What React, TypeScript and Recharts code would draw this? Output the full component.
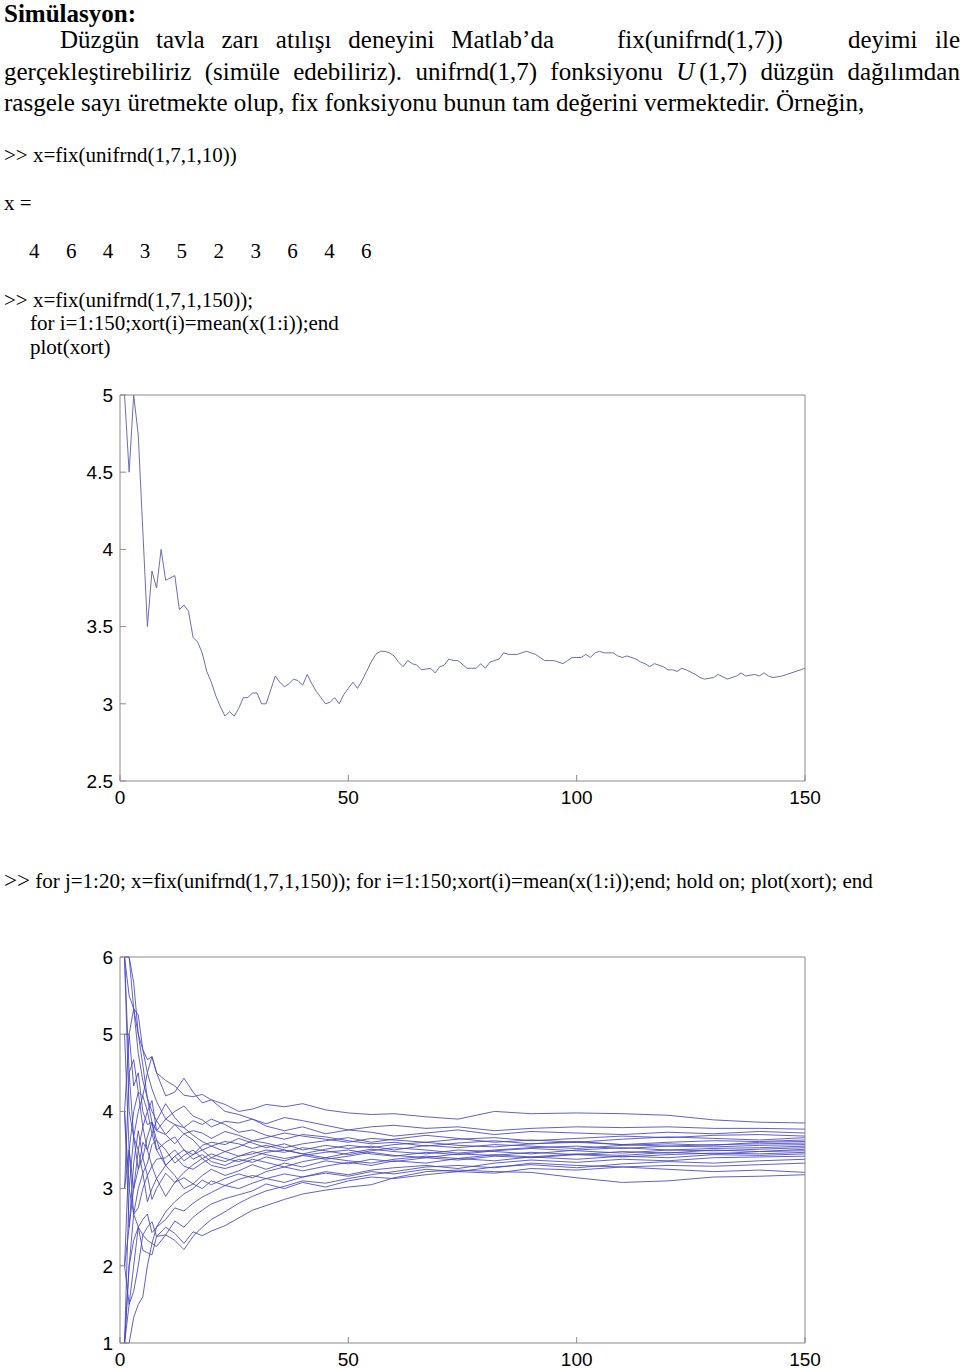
import React from "react";
import { LineChart, Line, XAxis, YAxis } from "recharts";

// single run: running mean of 150 dice throws (index -> mean)
const singleRunIdx = [
  1, 2, 3, 4, 6, 7, 8, 9, 10, 12, 13, 14, 15, 16, 17, 18, 19, 20, 21, 22, 23, 24, 25, 26, 27, 28, 29, 30,
  31, 32, 33, 34, 35, 36, 37, 38, 39, 40, 41, 42, 43, 44, 45, 46, 47, 48, 49, 50, 51, 52, 53, 54, 55, 56,
  57, 58, 59, 60, 61, 62, 63, 64, 65, 66, 68, 69, 70, 71, 72, 73, 74, 76, 77, 78, 79, 80, 81, 83, 84, 85,
  87, 88, 89, 91, 92, 93, 95, 97, 98, 99, 101, 102, 103, 104, 105, 106, 108, 109, 110, 111, 113, 114, 115,
  116, 117, 119, 120, 121, 122, 123, 124, 126, 127, 128, 130, 131, 133, 135, 136, 137, 139, 140, 141, 142,
  143, 145, 146, 148, 150,
];
const singleRunMean = [
  5.0, 4.5, 5.0, 4.74, 3.5, 3.86, 3.75, 4.0, 3.8, 3.83, 3.61, 3.64, 3.6, 3.43, 3.4, 3.33, 3.21, 3.14, 3.05,
  2.98, 2.92, 2.95, 2.92, 2.97, 3.04, 3.04, 3.07, 3.07, 3.0, 3.0, 3.09, 3.18, 3.14, 3.11, 3.13, 3.16, 3.15,
  3.12, 3.19, 3.13, 3.08, 3.04, 3.0, 3.01, 3.04, 3.0, 3.06, 3.1, 3.14, 3.1, 3.15, 3.21, 3.27, 3.32, 3.34,
  3.34, 3.33, 3.31, 3.27, 3.24, 3.28, 3.26, 3.25, 3.22, 3.23, 3.2, 3.24, 3.25, 3.29, 3.28, 3.28, 3.23, 3.23,
  3.23, 3.26, 3.23, 3.27, 3.29, 3.33, 3.32, 3.32, 3.33, 3.34, 3.32, 3.3, 3.28, 3.28, 3.26, 3.28, 3.3, 3.3,
  3.32, 3.3, 3.33, 3.34, 3.33, 3.33, 3.31, 3.3, 3.31, 3.29, 3.27, 3.26, 3.24, 3.26, 3.24, 3.22, 3.22, 3.21,
  3.23, 3.22, 3.19, 3.17, 3.16, 3.17, 3.19, 3.16, 3.18, 3.2, 3.18, 3.19, 3.18, 3.2, 3.18, 3.17, 3.18, 3.19,
  3.21, 3.23,
];

// 20 runs, sampled at the same indices
const sweepIdx = [
  1, 2, 3, 4, 5, 6, 7, 8, 10, 12, 14, 16, 18, 20, 23, 26, 29, 32, 36, 40, 45, 50, 55, 60, 67, 74, 82, 90,
  100, 110, 120, 130, 140, 150,
];
const run01 = [6, 5.5, 5.33, 5, 4.8, 4.67, 4.71, 4.5, 4.4, 4.33, 4.21, 4.19, 4.22, 4.15, 4.09, 4.0, 4.03, 4.09, 4.06, 4.1, 4.02, 3.98, 3.96, 3.97, 3.93, 3.9, 4.0, 3.97, 3.98, 3.97, 3.95, 3.89, 3.86, 3.85];
const run02 = [4, 5, 5.33, 5.25, 4.8, 4.5, 4.71, 4.5, 4.2, 4.25, 4.43, 4.25, 4.11, 4.15, 4.0, 3.96, 3.9, 3.84, 3.92, 3.88, 3.82, 3.76, 3.8, 3.82, 3.78, 3.8, 3.75, 3.78, 3.8, 3.79, 3.8, 3.78, 3.78, 3.77];
const run03 = [6, 4.5, 4.67, 4.25, 4.2, 4.5, 4.29, 4.13, 3.9, 4.0, 4.07, 3.94, 3.89, 3.8, 3.87, 3.85, 3.9, 3.81, 3.75, 3.8, 3.71, 3.76, 3.73, 3.68, 3.72, 3.76, 3.7, 3.74, 3.72, 3.7, 3.73, 3.71, 3.74, 3.72];
const run04 = [5, 5, 4.33, 4.5, 4, 3.83, 3.86, 3.75, 3.9, 3.83, 3.71, 3.75, 3.72, 3.65, 3.74, 3.69, 3.62, 3.66, 3.72, 3.68, 3.64, 3.6, 3.65, 3.63, 3.6, 3.64, 3.66, 3.62, 3.65, 3.68, 3.66, 3.69, 3.7, 3.68];
const run05 = [6, 6, 5.33, 4.75, 4.4, 4.17, 4.0, 3.88, 3.7, 3.58, 3.71, 3.63, 3.5, 3.55, 3.48, 3.54, 3.62, 3.59, 3.53, 3.58, 3.62, 3.66, 3.6, 3.64, 3.69, 3.65, 3.6, 3.63, 3.6, 3.64, 3.67, 3.65, 3.63, 3.66];
const run06 = [3, 4.5, 3.67, 4, 4.2, 4, 3.71, 3.88, 4.1, 3.92, 3.79, 3.88, 3.83, 3.9, 3.83, 3.73, 3.76, 3.69, 3.64, 3.7, 3.67, 3.62, 3.58, 3.6, 3.55, 3.59, 3.62, 3.58, 3.61, 3.57, 3.6, 3.62, 3.61, 3.63];
const run07 = [2, 3.5, 4, 4.25, 3.8, 3.5, 3.71, 3.5, 3.6, 3.67, 3.5, 3.44, 3.56, 3.6, 3.57, 3.65, 3.59, 3.53, 3.58, 3.5, 3.56, 3.52, 3.55, 3.5, 3.56, 3.53, 3.57, 3.55, 3.52, 3.56, 3.58, 3.56, 3.6, 3.61];
const run08 = [1, 3, 3.67, 3.5, 3.8, 4, 4.14, 3.75, 3.7, 3.83, 3.79, 3.69, 3.61, 3.55, 3.61, 3.58, 3.52, 3.56, 3.5, 3.45, 3.51, 3.56, 3.53, 3.57, 3.6, 3.56, 3.54, 3.58, 3.6, 3.57, 3.55, 3.57, 3.58, 3.59];
const run09 = [5, 3.5, 3, 3.25, 3.6, 3.5, 3.29, 3.38, 3.4, 3.5, 3.36, 3.44, 3.5, 3.4, 3.48, 3.42, 3.45, 3.5, 3.47, 3.53, 3.49, 3.44, 3.49, 3.53, 3.5, 3.46, 3.5, 3.53, 3.55, 3.52, 3.55, 3.54, 3.56, 3.57];
const run10 = [4, 2.5, 3, 3.5, 3.2, 3.33, 3.57, 3.63, 3.5, 3.33, 3.43, 3.5, 3.39, 3.45, 3.39, 3.35, 3.41, 3.47, 3.5, 3.45, 3.4, 3.46, 3.51, 3.48, 3.45, 3.5, 3.48, 3.45, 3.5, 3.53, 3.5, 3.52, 3.53, 3.55];
const run11 = [6, 6, 5.67, 5, 4.6, 4.17, 3.86, 3.63, 3.3, 3.42, 3.29, 3.25, 3.33, 3.4, 3.35, 3.42, 3.48, 3.44, 3.39, 3.43, 3.47, 3.5, 3.45, 3.42, 3.47, 3.44, 3.49, 3.52, 3.49, 3.46, 3.5, 3.49, 3.51, 3.53];
const run12 = [2, 2.5, 3.33, 3.75, 3.4, 3.17, 3.29, 3.13, 3.3, 3.42, 3.5, 3.38, 3.44, 3.35, 3.3, 3.38, 3.34, 3.41, 3.36, 3.43, 3.38, 3.42, 3.47, 3.43, 3.4, 3.45, 3.43, 3.47, 3.44, 3.48, 3.46, 3.5, 3.48, 3.51];
const run13 = [3, 3.5, 2.67, 2.75, 3, 3.17, 2.86, 3, 3.2, 3.08, 3.21, 3.31, 3.39, 3.3, 3.26, 3.31, 3.38, 3.34, 3.28, 3.35, 3.4, 3.36, 3.33, 3.38, 3.42, 3.39, 3.44, 3.41, 3.45, 3.43, 3.47, 3.45, 3.48, 3.49];
const run14 = [1, 2, 2.67, 3, 3.2, 2.83, 3, 3.13, 2.9, 3.08, 3.14, 3.06, 3.17, 3.25, 3.17, 3.23, 3.31, 3.25, 3.33, 3.28, 3.36, 3.32, 3.38, 3.35, 3.4, 3.37, 3.42, 3.4, 3.44, 3.41, 3.44, 3.46, 3.45, 3.47];
const run15 = [4, 3, 2.67, 2.5, 2.6, 2.67, 2.43, 2.5, 2.7, 2.83, 2.93, 3.0, 3.11, 3.05, 3.13, 3.19, 3.14, 3.22, 3.28, 3.23, 3.29, 3.34, 3.3, 3.36, 3.33, 3.39, 3.36, 3.41, 3.38, 3.42, 3.4, 3.44, 3.43, 3.45];
const run16 = [6, 4, 3.67, 3.25, 3.4, 3.67, 3.86, 3.5, 3.3, 3.17, 3.0, 3.06, 3.0, 3.1, 3.04, 3.12, 3.17, 3.13, 3.19, 3.15, 3.22, 3.18, 3.24, 3.27, 3.3, 3.26, 3.33, 3.37, 3.34, 3.38, 3.36, 3.4, 3.41, 3.42];
const run17 = [1, 1.5, 2, 2.5, 2.4, 2.33, 2.29, 2.5, 2.6, 2.75, 2.71, 2.81, 2.89, 2.95, 3.04, 3.0, 3.07, 3.13, 3.08, 3.15, 3.2, 3.16, 3.22, 3.19, 3.25, 3.22, 3.28, 3.31, 3.27, 3.32, 3.35, 3.33, 3.36, 3.38];
const run18 = [2, 1.5, 1.67, 2, 2.4, 2.5, 2.57, 2.38, 2.4, 2.58, 2.5, 2.63, 2.72, 2.8, 2.87, 2.92, 2.97, 3.06, 3.0, 3.08, 3.02, 3.1, 3.15, 3.13, 3.18, 3.22, 3.2, 3.26, 3.24, 3.28, 3.3, 3.29, 3.31, 3.33];
const run19 = [1, 1, 1.33, 1.5, 1.6, 2.0, 2.29, 2.25, 2.4, 2.33, 2.21, 2.38, 2.5, 2.6, 2.7, 2.81, 2.9, 2.97, 3.03, 3.1, 3.07, 3.13, 3.18, 3.22, 3.28, 3.3, 3.27, 3.33, 3.3, 3.28, 3.25, 3.22, 3.24, 3.21];
const run20 = [1, 2, 2.33, 2.5, 2.2, 2.17, 2.14, 2.38, 2.5, 2.42, 2.29, 2.44, 2.39, 2.45, 2.52, 2.62, 2.72, 2.78, 2.86, 2.93, 2.98, 3.02, 3.05, 3.14, 3.22, 3.24, 3.22, 3.21, 3.14, 3.08, 3.1, 3.15, 3.16, 3.18];

const sweepRuns = [
  run01, run02, run03, run04, run05, run06, run07, run08, run09, run10,
  run11, run12, run13, run14, run15, run16, run17, run18, run19, run20,
];

const xTicks = [0, 50, 100, 150];
const yTicksSingle = [2.5, 3, 3.5, 4, 4.5, 5];
const yTicksSweep = [1, 2, 3, 4, 5, 6];
const firstDraw = [4, 6, 4, 3, 5, 2, 3, 6, 4, 6];

const singleData = singleRunIdx.map((i, k) => ({ i, v: singleRunMean[k] }));
const sweepData = sweepIdx.map((i, k) => {
  const row: Record<string, number> = { i };
  sweepRuns.forEach((r, j) => (row["r" + j] = r[k]));
  return row;
});

const serif = "'Liberation Serif', 'Times New Roman', serif";
const sans = "'Liberation Sans', Arial, sans-serif";
const boxGray = "#8a8a8a";
const tickFont = { fontFamily: sans, fontSize: 19, fill: "#000" };

function Txt({ x, top, size, children, style }: any) {
  return (
    <div
      style={{
        position: "absolute",
        left: x,
        top,
        fontSize: size,
        lineHeight: 1.15,
        fontFamily: serif,
        whiteSpace: "nowrap",
        color: "#000",
        ...style,
      }}
    >
      {children}
    </div>
  );
}

function Spread({ x, top, width, words }: any) {
  return (
    <div
      style={{
        position: "absolute",
        left: x,
        top,
        width,
        fontSize: 25,
        lineHeight: 1.15,
        fontFamily: serif,
        display: "flex",
        justifyContent: "space-between",
        whiteSpace: "nowrap",
      }}
    >
      {words.map((w: any, k: number) => (
        <span key={k}>{w}</span>
      ))}
    </div>
  );
}

function Frame({ yTicks, yDomain, children, data }: any) {
  return (
    <LineChart width={780} height={424} data={data} margin={{ top: 9, right: 34, bottom: 0, left: 0 }}>
      <XAxis
        xAxisId="b"
        dataKey="i"
        type="number"
        domain={[0, 150]}
        ticks={xTicks}
        tickSize={-6}
        tickMargin={16}
        stroke={boxGray}
        tick={tickFont}
        height={28}
      />
      <XAxis
        xAxisId="t"
        orientation="top"
        dataKey="i"
        type="number"
        domain={[0, 150]}
        ticks={xTicks}
        tickSize={-6}
        tick={false}
        stroke={boxGray}
        height={1}
      />
      <YAxis
        yAxisId="l"
        type="number"
        domain={yDomain}
        ticks={yTicks}
        tickSize={-6}
        tickMargin={13}
        stroke={boxGray}
        tick={tickFont}
        width={60}
        interval={0}
      />
      <YAxis
        yAxisId="r"
        orientation="right"
        type="number"
        domain={yDomain}
        ticks={yTicks}
        tickSize={-6}
        tick={false}
        stroke={boxGray}
        width={1}
        interval={0}
      />
      {children}
    </LineChart>
  );
}

export default function App() {
  return (
    <div style={{ position: "absolute", left: 0, top: 0, width: 960, height: 1369, background: "#fff", overflow: "hidden" }}>
      <Txt x={4} top={0} size={25} style={{ fontWeight: "bold" }}>
        Simülasyon:
      </Txt>
      <Spread x={60} top={26} width={494} words={["Düzgün", "tavla", "zarı", "atılışı", "deneyini", "Matlab’da"]} />
      <Txt x={617} top={26} size={25}>
        fix(unifrnd(1,7))
      </Txt>
      <Spread x={848} top={26} width={112} words={["deyimi", "ile"]} />
      <Spread
        x={4}
        top={58}
        width={956}
        words={[
          "gerçekleştirebiliriz",
          "(simüle",
          "edebiliriz).",
          "unifrnd(1,7)",
          "fonksiyonu",
          <span>
            <i>U</i>&thinsp;(1,7)
          </span>,
          "düzgün",
          "dağılımdan",
        ]}
      />
      <Txt x={4} top={89} size={25}>
        rasgele sayı üretmekte olup, fix fonksiyonu bunun tam değerini vermektedir. Örneğin,
      </Txt>

      <Txt x={4} top={143} size={21}>
        &gt;&gt; x=fix(unifrnd(1,7,1,10))
      </Txt>
      <Txt x={4} top={191} size={21}>
        x =
      </Txt>
      {firstDraw.map((n, k) => (
        <Txt key={k} x={29 + k * 36.9} top={239} size={21}>
          {n}
        </Txt>
      ))}
      <Txt x={4} top={288} size={21}>
        &gt;&gt; x=fix(unifrnd(1,7,1,150));
      </Txt>
      <Txt x={30} top={311} size={21}>
        for i=1:150;xort(i)=mean(x(1:i));end
      </Txt>
      <Txt x={30} top={335} size={21}>
        plot(xort)
      </Txt>

      <div style={{ position: "absolute", left: 60, top: 385 }}>
        <Frame data={singleData} yTicks={yTicksSingle} yDomain={[2.5, 5]}>
          <Line
            xAxisId="b"
            yAxisId="l"
            type="linear"
            dataKey="v"
            stroke="#6e6eb4"
            strokeWidth={1}
            dot={false}
            isAnimationActive={false}
          />
        </Frame>
      </div>

      <Txt x={4} top={868} size={21}>
        <span style={{ fontSize: 23 }}>&gt;&gt;</span> for j=1:20; x=fix(unifrnd(1,7,1,150)); for i=1:150;xort(i)=mean(x(1:i));end; hold on; plot(xort); end
      </Txt>

      <div style={{ position: "absolute", left: 60, top: 947 }}>
        <Frame data={sweepData} yTicks={yTicksSweep} yDomain={[1, 6]}>
          {sweepRuns.map((_, j) => (
            <Line
              key={j}
              xAxisId="b"
              yAxisId="l"
              type="linear"
              dataKey={"r" + j}
              stroke="#4646bc"
              strokeWidth={0.85}
              dot={false}
              isAnimationActive={false}
            />
          ))}
        </Frame>
      </div>
    </div>
  );
}
